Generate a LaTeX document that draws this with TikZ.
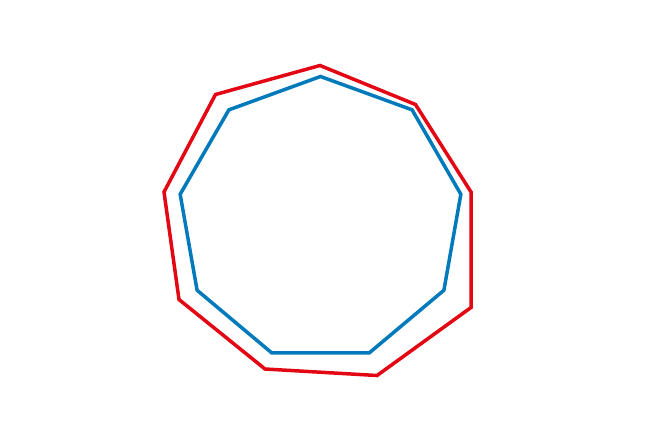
\documentclass[tikz,border=0pt]{standalone}
\usepackage{tikz}

\definecolor{polyred}{RGB}{227,6,19}
\definecolor{polyblue}{RGB}{0,122,187}

\begin{document}
\begin{tikzpicture}[x=1pt,y=-1pt,line join=miter]
    % Frame
    \useasboundingbox (0,0) rectangle (671,436);

    % Perturbed nonagon
    \draw[polyred,line width=3.5pt] (320,65.5) -- (415.5,104.5) -- (471,192) -- (471,307.5)
        -- (377,375.5) -- (265,369) -- (179,299.5) -- (164,192) -- (215.5,94.5) -- cycle;

    % Regular nonagon
    \draw[polyblue,line width=3.5pt,samples=10,domain=90:450]
        plot ({320.5+142.5*cos(\x)},{219-142.5*sin(\x)}) -- cycle;
\end{tikzpicture}
\end{document}
